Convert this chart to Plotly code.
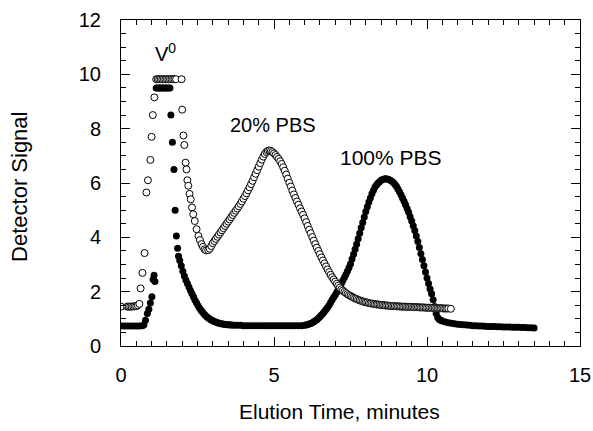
import plotly.graph_objects as go

# 100% PBS (filled circles)
t_100 = [0.0, 0.1, 0.2, 0.3, 0.4, 0.5, 0.6, 0.7, 0.75, 0.8, 0.86, 0.91, 0.96, 1.01, 1.05, 1.08, 1.11,
         1.15, 1.2, 1.25, 1.3, 1.35, 1.4, 1.45, 1.5, 1.55, 1.6,
         1.63, 1.68, 1.73, 1.77, 1.81, 1.85, 1.88,
         1.92, 1.97, 2.02, 2.07, 2.12, 2.17, 2.22, 2.27, 2.32, 2.37, 2.42, 2.47, 2.52, 2.57, 2.62, 2.67,
         2.72, 2.77, 2.82, 2.87, 2.92, 2.97, 3.02, 3.07, 3.12, 3.17, 3.22, 3.27, 3.32, 3.37, 3.42, 3.47,
         3.52, 3.57, 3.62,
         3.7, 3.8, 3.9, 4.0, 4.1, 4.2, 4.3, 4.4, 4.5, 4.6, 4.7, 4.8, 4.9, 5.0, 5.1, 5.2, 5.3, 5.4, 5.5,
         5.6, 5.7, 5.8, 5.9,
         6.0, 6.05, 6.1, 6.15, 6.2, 6.25, 6.3, 6.35, 6.4, 6.45, 6.5, 6.55, 6.6, 6.65, 6.7, 6.75, 6.8,
         6.85, 6.9, 6.95, 7.0, 7.05, 7.1, 7.15, 7.2, 7.25, 7.3, 7.35, 7.4, 7.45, 7.5, 7.55, 7.6, 7.65,
         7.7, 7.75, 7.8, 7.85, 7.9, 7.95, 8.0, 8.05, 8.1, 8.15, 8.2, 8.25, 8.3, 8.35, 8.4, 8.45, 8.5,
         8.55, 8.6, 8.65, 8.7, 8.75, 8.8, 8.85, 8.9, 8.95, 9.0, 9.05, 9.1, 9.15, 9.2, 9.25, 9.3, 9.35,
         9.4, 9.45, 9.5, 9.55, 9.6, 9.65, 9.7, 9.75, 9.8, 9.85, 9.9, 9.95, 10.0, 10.05, 10.1, 10.15,
         10.2, 10.25, 10.3, 10.35, 10.4, 10.45, 10.5,
         10.6, 10.7, 10.8, 10.9, 11.0, 11.1, 11.2, 11.3, 11.4, 11.5, 11.6, 11.7, 11.8, 11.9, 12.0,
         12.1, 12.2, 12.3, 12.4, 12.5, 12.6, 12.7, 12.8, 12.9, 13.0, 13.1, 13.2, 13.3, 13.4, 13.5]
s_100 = [0.74, 0.74, 0.74, 0.74, 0.74, 0.74, 0.74, 0.75, 0.78, 0.95, 1.2, 1.35, 1.58, 1.81, 2.45, 2.6, 2.37,
         9.5, 9.5, 9.5, 9.5, 9.5, 9.5, 9.5, 9.5, 9.5, 9.5,
         8.5, 7.5, 6.5, 5.0, 4.05, 3.6, 3.3,
         3.15, 2.95, 2.75, 2.58, 2.43, 2.30, 2.17, 2.04, 1.92, 1.80, 1.68, 1.58, 1.48, 1.39, 1.31, 1.24,
         1.17, 1.11, 1.06, 1.02, 0.98, 0.95, 0.92, 0.89, 0.87, 0.85, 0.84, 0.82, 0.81, 0.80, 0.79, 0.78,
         0.78, 0.77, 0.77,
         0.76, 0.76, 0.76, 0.75, 0.75, 0.75, 0.75, 0.75, 0.75, 0.75, 0.75, 0.75, 0.75, 0.75, 0.75, 0.75,
         0.75, 0.75, 0.75,
         0.75, 0.75, 0.75, 0.75,
         0.76, 0.77, 0.79, 0.81, 0.83, 0.86, 0.89, 0.93, 0.97, 1.02, 1.08, 1.14, 1.20, 1.27, 1.34, 1.42, 1.50,
         1.60, 1.70, 1.79, 1.88, 1.98, 2.08, 2.19, 2.30, 2.41, 2.52, 2.63, 2.75, 2.88, 3.02, 3.20, 3.38, 3.56,
         3.75, 3.95, 4.15, 4.35, 4.55, 4.75, 4.95, 5.13, 5.30, 5.45, 5.60, 5.73, 5.85, 5.93, 6.00, 6.05, 6.10,
         6.13, 6.15, 6.16, 6.15, 6.13, 6.10, 6.06, 6.02, 5.95, 5.88, 5.78, 5.68, 5.57, 5.45, 5.33, 5.20, 5.06,
         4.92, 4.76, 4.60, 4.43, 4.25, 4.05, 3.85, 3.63, 3.40, 3.18, 2.95, 2.72, 2.50, 2.30, 2.10, 1.92,
         1.70, 1.45, 1.20, 1.05, 0.98, 0.95, 0.92,
         0.88, 0.86, 0.84, 0.82, 0.80, 0.79, 0.78, 0.77, 0.76, 0.75, 0.75, 0.74, 0.74, 0.73, 0.72,
         0.72, 0.72, 0.71, 0.71, 0.70, 0.70, 0.70, 0.69, 0.69, 0.69, 0.68, 0.68, 0.67, 0.67, 0.66]

# 20% PBS (open circles)
t_20 = [0.0, 0.2, 0.25, 0.3, 0.35, 0.4, 0.45, 0.5, 0.55, 0.6, 0.64, 0.7, 0.77, 0.83, 0.88, 0.96, 1.0,
        1.04, 1.09, 1.15, 1.2, 1.25, 1.3, 1.35, 1.4, 1.45, 1.5, 1.55, 1.6, 1.65, 1.7, 1.75, 1.8,
        1.98, 2.0, 2.04, 2.07, 2.11, 2.14, 2.17, 2.2, 2.24, 2.28, 2.32, 2.36, 2.41, 2.47, 2.53, 2.58,
        2.63, 2.68, 2.73, 2.78,
        2.85, 2.9, 2.95, 3.0, 3.05, 3.1, 3.15, 3.2, 3.25, 3.3, 3.35, 3.4, 3.45, 3.5, 3.55, 3.6, 3.65,
        3.7, 3.75, 3.8, 3.85, 3.9, 3.95, 4.0, 4.05, 4.1, 4.15, 4.2, 4.25, 4.3, 4.35, 4.4, 4.45, 4.5,
        4.55, 4.6, 4.65, 4.7, 4.75, 4.8, 4.85, 4.9, 4.95, 5.0, 5.05, 5.1, 5.15, 5.2, 5.25, 5.3, 5.35,
        5.4, 5.45, 5.5, 5.55, 5.6, 5.65, 5.7, 5.75, 5.8, 5.85, 5.9, 5.95, 6.0, 6.05, 6.1, 6.15, 6.2,
        6.25, 6.3, 6.35, 6.4, 6.45, 6.5, 6.55, 6.6, 6.65, 6.7, 6.75, 6.8, 6.85, 6.9, 6.95, 7.0, 7.05,
        7.1, 7.15, 7.2, 7.25, 7.3, 7.35, 7.4, 7.45, 7.5, 7.55, 7.6, 7.65, 7.7, 7.75, 7.8, 7.85, 7.9,
        7.95, 8.0, 8.05, 8.1, 8.15, 8.2, 8.25, 8.3, 8.35, 8.4, 8.45, 8.5, 8.55, 8.6, 8.65, 8.7, 8.75,
        8.8, 8.85, 8.9, 8.95, 9.0, 9.05, 9.1, 9.15, 9.2, 9.25, 9.3, 9.35, 9.4, 9.45, 9.5, 9.55, 9.6,
        9.65, 9.7, 9.75, 9.8, 9.85, 9.9, 9.95, 10.0, 10.05, 10.1, 10.15, 10.2, 10.25, 10.3, 10.35,
        10.4, 10.45, 10.5, 10.55, 10.6, 10.65, 10.7, 10.78]
s_20 = [1.45, 1.45, 1.45, 1.45, 1.45, 1.46, 1.46, 1.47, 1.5, 1.55, 2.12, 2.69, 3.42, 5.65, 6.1, 6.85, 7.7,
        8.5, 9.15, 9.82, 9.82, 9.82, 9.82, 9.82, 9.82, 9.82, 9.82, 9.82, 9.82, 9.82, 9.82, 9.82, 9.82,
        9.82, 8.7, 7.75, 7.4, 6.75, 6.5, 6.1, 5.9, 5.6, 5.4, 5.1, 4.85, 4.6, 4.3, 4.05, 3.9,
        3.75, 3.65, 3.56, 3.52,
        3.53, 3.58, 3.68, 3.78, 3.86, 3.94, 4.02, 4.10, 4.18, 4.26, 4.34, 4.42, 4.50, 4.58, 4.66, 4.74, 4.82,
        4.90, 4.98, 5.06, 5.14, 5.23, 5.32, 5.42, 5.52, 5.62, 5.73, 5.84, 5.96, 6.08, 6.21, 6.34, 6.47, 6.60,
        6.73, 6.86, 6.97, 7.07, 7.14, 7.18, 7.20, 7.18, 7.14, 7.09, 7.03, 6.96, 6.89, 6.80, 6.70, 6.58, 6.45,
        6.31, 6.16, 6.01, 5.87, 5.72, 5.58, 5.45, 5.32, 5.20, 5.07, 4.95, 4.83, 4.70, 4.56, 4.42, 4.28, 4.15,
        4.01, 3.88, 3.75, 3.62, 3.50, 3.38, 3.26, 3.15, 3.04, 2.93, 2.82, 2.72, 2.62, 2.53, 2.45, 2.37, 2.29,
        2.22, 2.15, 2.09, 2.04, 1.99, 1.95, 1.91, 1.87, 1.84, 1.81, 1.78, 1.75, 1.73, 1.70, 1.68, 1.66, 1.64,
        1.62, 1.61, 1.60, 1.58, 1.57, 1.56, 1.55, 1.54, 1.53, 1.53, 1.52, 1.51, 1.51, 1.50, 1.49, 1.49, 1.48,
        1.48, 1.47, 1.47, 1.47, 1.46, 1.46, 1.46, 1.45, 1.45, 1.45, 1.45, 1.44, 1.44, 1.44, 1.44, 1.43, 1.43,
        1.43, 1.43, 1.42, 1.42, 1.42, 1.42, 1.41, 1.41, 1.41, 1.41, 1.40, 1.40, 1.40, 1.40, 1.39,
        1.39, 1.39, 1.39, 1.38, 1.38, 1.38, 1.38, 1.37]

x_ticks = [0, 5, 10, 15]
y_ticks = [0, 2, 4, 6, 8, 10, 12]

FONT = "Liberation Sans, Arial, Helvetica, sans-serif"

fig = go.Figure()
fig.add_trace(go.Scatter(x=t_100, y=s_100, mode="markers", name="100% PBS",
                         marker=dict(symbol="circle", size=7, color="black",
                                     line=dict(color="black", width=0))))
fig.add_trace(go.Scatter(x=t_20, y=s_20, mode="markers", name="20% PBS",
                         marker=dict(symbol="circle", size=7, color="white",
                                     line=dict(color="black", width=1))))

axis_common = dict(showline=True, linecolor="black", linewidth=1, mirror="ticks",
                   ticks="inside", ticklen=9, tickwidth=1, tickcolor="black",
                   showgrid=False, zeroline=False, automargin=False,
                   tickfont=dict(family=FONT, size=20, color="black"))

fig.update_xaxes(range=[0, 15], tickvals=x_ticks, ticktext=[str(v) for v in x_ticks],
                 ticklabelstandoff=11,
                 minor=dict(dtick=0.5, ticks="inside", ticklen=5, tickcolor="black", showgrid=False),
                 **axis_common)
fig.update_yaxes(range=[0, 12], tickvals=y_ticks, ticktext=[str(v) for v in y_ticks],
                 ticklabelstandoff=15,
                 minor=dict(dtick=0.5, ticks="inside", ticklen=5, tickcolor="black", showgrid=False),
                 **axis_common)

annots = [
    dict(x=1.44, y=10.82, text="V<sup>0</sup>", xref="x", yref="y", showarrow=False,
         font=dict(family=FONT, size=20, color="black")),
    dict(x=4.97, y=8.15, text="20% PBS", xref="x", yref="y", showarrow=False,
         font=dict(family=FONT, size=20, color="black")),
    dict(x=8.82, y=6.94, text="100% PBS", xref="x", yref="y", showarrow=False,
         font=dict(family=FONT, size=21, color="black")),
    dict(x=0.477, y=-0.202, text="Elution Time, minutes", xref="paper", yref="paper",
         xanchor="center", yanchor="middle", showarrow=False,
         font=dict(family=FONT, size=21, color="black")),
    dict(x=-0.22, y=0.488, text="Detector Signal", xref="paper", yref="paper", textangle=-90,
         xanchor="center", yanchor="middle", showarrow=False,
         font=dict(family=FONT, size=22, color="black")),
]
fig.update_layout(width=593, height=431, margin=dict(l=121, r=13, t=20, b=85),
                  paper_bgcolor="white", plot_bgcolor="white", showlegend=False,
                  annotations=annots)

# remove the browser's default 8px body margin so the 593x431 figure fills the window exactly
fig.write_html("out.html", config={"displayModeBar": False},
               post_script="document.body.style.margin='0';document.body.style.overflow='hidden';")
